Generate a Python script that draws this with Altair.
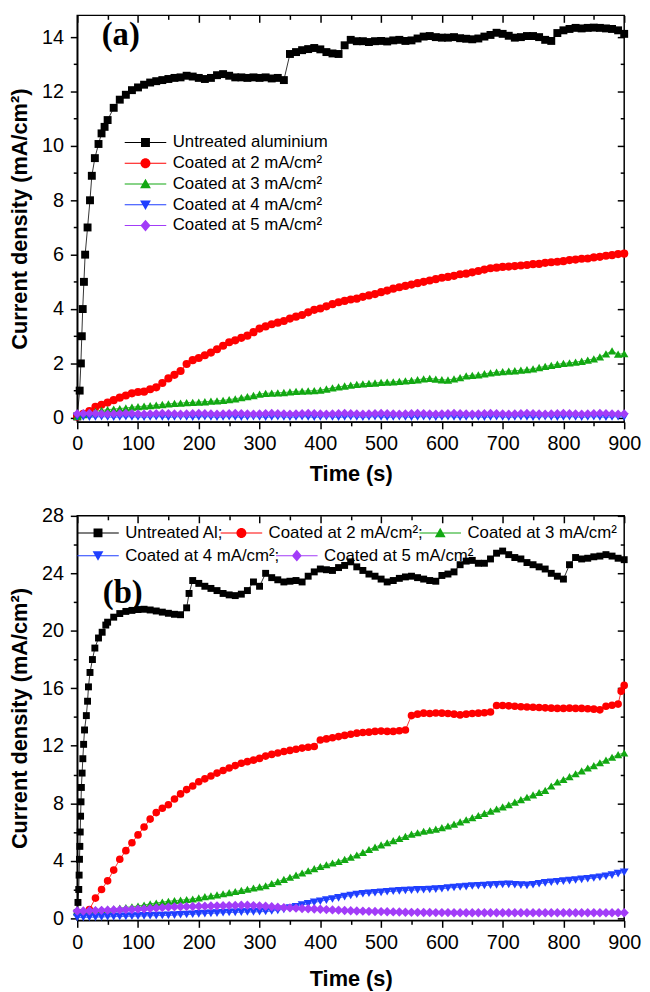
import altair as alt
import pandas as pd

FONT = "Liberation Sans"

# ---------------- categories / styles ----------------
NAMES_A = ["Untreated aluminium", "Coated at 2 mA/cm²", "Coated at 3 mA/cm²",
           "Coated at 4 mA/cm²", "Coated at 5 mA/cm²"]
NAMES_B = ["Untreated Al;", "Coated at 2 mA/cm²;", "Coated at 3 mA/cm²",
           "Coated at 4 mA/cm²;", "Coated at 5 mA/cm²"]
COLORS = ["#000000", "#FF0000", "#12A812", "#1F3FFF", "#A23CF8"]
SHAPES = ["square", "circle", "triangle-up", "triangle-down", "diamond"]
SIZES_A = [64, 81, 100, 100, 121]
SIZES_B = [49, 90, 100, 100, 130]

# legend glyphs: a thin horizontal line plus the marker (filled areas only)
LEG_PATHS = [
    "M-2,-0.05H2V0.05H-2ZM-0.43,-0.43H0.43V0.43H-0.43Z",
    "M-2,-0.05H2V0.05H-2ZM0.48,0A0.48,0.48,0,1,1,-0.48,0A0.48,0.48,0,1,1,0.48,0Z",
    "M-2,-0.05H2V0.05H-2ZM0,-0.5L0.52,0.42H-0.52Z",
    "M-2,-0.05H2V0.05H-2ZM0,0.5L-0.52,-0.42H0.52Z",
    "M-2,-0.05H2V0.05H-2ZM0,-0.57L0.48,0L0,0.57L-0.48,0Z",
]

# ---------------- tick values ----------------
X_MAJOR = [0, 100, 200, 300, 400, 500, 600, 700, 800, 900]
X_MINOR = [50, 150, 250, 350, 450, 550, 650, 750, 850]
Y_MAJOR_A = [0, 2, 4, 6, 8, 10, 12, 14]
Y_MINOR_A = [1, 3, 5, 7, 9, 11, 13]
Y_MAJOR_B = [0, 4, 8, 12, 16, 20, 24, 28]
Y_MINOR_B = [2, 6, 10, 14, 18, 22, 26]

# ---------------- data: panel (a) ----------------
T10 = list(range(0, 901, 10))

BLACK_A_T = [0, 4, 6, 7.5, 9, 11, 13, 17, 21, 24, 29, 35, 40, 45] + list(range(50, 901, 10))
BLACK_A_V = [0.05, 1.0, 2.0, 3.0, 4.0, 5.0, 6.0, 7.0, 8.0, 8.9, 9.55, 10.07, 10.46, 10.7,
             10.95, 11.4, 11.7, 11.88, 12.05, 12.15, 12.25, 12.33, 12.38, 12.42,
             12.46, 12.5, 12.52, 12.58, 12.55, 12.5, 12.46, 12.5, 12.6, 12.64,
             12.58, 12.52, 12.52, 12.5, 12.52, 12.5, 12.52, 12.48, 12.5, 12.42,
             13.38, 13.45, 13.52, 13.56, 13.6, 13.55, 13.45, 13.4, 13.38, 13.7,
             13.9, 13.85, 13.85, 13.82, 13.85, 13.86, 13.84, 13.88, 13.9, 13.86,
             13.88, 13.95, 14.02, 14.04, 14.0, 13.98, 13.98, 14.0, 13.96, 13.94,
             13.92, 13.95, 14.02, 14.08, 14.16, 14.12, 14.05, 13.98, 14.0, 14.04,
             14.04, 14.0, 13.9, 13.86, 14.15, 14.25, 14.3, 14.34, 14.32, 14.34,
             14.35, 14.34, 14.32, 14.3, 14.25, 14.12]

RED_A_V = [0.05, 0.15, 0.25, 0.4, 0.48, 0.56, 0.65, 0.74, 0.82, 0.9,
           0.95, 0.96, 1.05, 1.12, 1.28, 1.45, 1.58, 1.72, 1.98, 2.12,
           2.2, 2.3, 2.4, 2.52, 2.65, 2.78, 2.85, 2.94, 3.02, 3.15,
           3.28, 3.36, 3.44, 3.5, 3.56, 3.65, 3.72, 3.78, 3.88, 3.97,
           4.02, 4.1, 4.18, 4.25, 4.3, 4.35, 4.38, 4.45, 4.5, 4.55,
           4.62, 4.68, 4.75, 4.8, 4.85, 4.9, 4.95, 5.0, 5.05, 5.1,
           5.15, 5.18, 5.22, 5.28, 5.3, 5.35, 5.4, 5.45, 5.5, 5.52,
           5.55, 5.56, 5.58, 5.6, 5.62, 5.65, 5.66, 5.7, 5.72, 5.74,
           5.76, 5.8, 5.82, 5.85, 5.86, 5.9, 5.92, 5.96, 5.98, 6.02,
           6.04]

GREEN_A_V = [0.05, 0.12, 0.18, 0.24, 0.27, 0.3, 0.32, 0.34, 0.36, 0.39,
             0.41, 0.43, 0.45, 0.47, 0.49, 0.51, 0.53, 0.54, 0.56, 0.57,
             0.58, 0.59, 0.61, 0.62, 0.64, 0.67, 0.7, 0.74, 0.78, 0.82,
             0.87, 0.9, 0.91, 0.92, 0.93, 0.95, 0.97, 0.98, 0.99, 1.0,
             1.02, 1.06, 1.1, 1.14, 1.17, 1.2, 1.23, 1.25, 1.27, 1.28,
             1.3, 1.31, 1.32, 1.34, 1.36, 1.38, 1.4, 1.43, 1.45, 1.42,
             1.4, 1.39, 1.43, 1.48, 1.54, 1.56, 1.58, 1.62, 1.65, 1.68,
             1.7, 1.72, 1.73, 1.75, 1.77, 1.8, 1.85, 1.89, 1.93, 1.97,
             2.0, 2.02, 2.05, 2.08, 2.12, 2.17, 2.24, 2.35, 2.46, 2.34,
             2.36]

BLUE_A_V = [0.04, 0.03, 0.02, 0.03, 0.04, 0.03, 0.02, 0.03, 0.04, 0.03,
            0.03, 0.02, 0.03, 0.04, 0.03, 0.02, 0.03, 0.04, 0.03, 0.02,
            0.03, 0.04, 0.03, 0.02, 0.03, 0.04, 0.03, 0.02, 0.03, 0.04,
            0.03, 0.02, 0.03, 0.04, 0.03, 0.02, 0.03, 0.04, 0.03, 0.02,
            0.03, 0.04, 0.03, 0.02, 0.03, 0.04, 0.03, 0.02, 0.03, 0.04,
            0.03, 0.02, 0.03, 0.04, 0.03, 0.02, 0.03, 0.04, 0.03, 0.02,
            0.03, 0.04, 0.03, 0.02, 0.03, 0.04, 0.03, 0.02, 0.03, 0.04,
            0.03, 0.02, 0.03, 0.04, 0.03, 0.02, 0.03, 0.04, 0.03, 0.02,
            0.03, 0.04, 0.03, 0.02, 0.03, 0.04, 0.03, 0.02, 0.03, 0.04,
            0.03]

PURPLE_A_V = [0.15, 0.16, 0.17, 0.16, 0.15, 0.14, 0.15, 0.16, 0.17, 0.16,
              0.15, 0.14, 0.15, 0.16, 0.17, 0.16, 0.15, 0.14, 0.15, 0.16,
              0.17, 0.16, 0.15, 0.14, 0.15, 0.16, 0.17, 0.16, 0.15, 0.14,
              0.15, 0.16, 0.17, 0.16, 0.15, 0.14, 0.15, 0.16, 0.17, 0.16,
              0.15, 0.14, 0.15, 0.16, 0.17, 0.16, 0.15, 0.14, 0.15, 0.16,
              0.17, 0.16, 0.15, 0.14, 0.15, 0.16, 0.17, 0.16, 0.15, 0.14,
              0.15, 0.16, 0.17, 0.16, 0.15, 0.14, 0.15, 0.16, 0.17, 0.16,
              0.15, 0.14, 0.15, 0.16, 0.17, 0.16, 0.15, 0.14, 0.15, 0.16,
              0.17, 0.16, 0.15, 0.14, 0.15, 0.16, 0.17, 0.16, 0.15, 0.14,
              0.15]

# ---------------- data: panel (b) ----------------
BLACK_B_T = ([0, 1.2, 2.5, 3.1, 3.7, 4.3, 4.9, 5.5, 6.2, 6.8, 8, 9.2, 10.5, 12, 15, 17, 18.5,
              21, 25, 29, 35, 41, 47] + list(range(50, 181, 10)) + [184] + list(range(190, 901, 10)))
BLACK_B_V = [0.4, 1.1, 2.0, 3.0, 4.1, 5.0, 6.0, 7.1, 8.1, 9.1, 10.1, 11.1, 12.1, 13.1, 14.1, 15.1,
             16.1, 17.1, 18.0, 18.8, 19.5, 19.9, 20.4,
             20.6, 20.95, 21.2, 21.35, 21.42, 21.48, 21.5, 21.45, 21.38, 21.3, 21.22, 21.15, 21.12, 21.6,
             22.6,
             23.5, 23.3, 23.1, 22.95, 22.8, 22.6, 22.5, 22.45, 22.55, 22.8,
             23.4, 23.1, 24.0, 23.7, 23.55, 23.4, 23.45, 23.5, 23.4, 23.8,
             24.1, 24.3, 24.25, 24.2, 24.4, 24.55, 24.8, 24.45, 24.2, 23.95,
             23.8, 23.6, 23.4, 23.5, 23.65, 23.75, 23.8, 23.7, 23.6, 23.5,
             23.45, 23.85, 23.95, 24.1, 24.6, 24.85, 24.9, 24.7, 24.7, 25.0,
             25.4, 25.55, 25.3, 25.1, 25.0, 24.75, 24.6, 24.45, 24.3, 24.0,
             23.8, 23.6, 24.6, 25.1, 25.0, 25.05, 25.15, 25.2, 25.3, 25.2,
             25.05, 24.95]

RED_B_T = list(range(20, 891, 10)) + [895, 900]
RED_B_V = [0.6, 1.4, 2.0, 2.6, 3.35, 4.1, 4.7, 5.25, 5.8, 6.35,
           6.9, 7.35, 7.65, 7.9, 8.3, 8.65, 8.95, 9.2, 9.5, 9.7,
           9.9, 10.1, 10.28, 10.45, 10.62, 10.78, 10.9, 11.0, 11.12, 11.28,
           11.4, 11.5, 11.6, 11.68, 11.76, 11.84, 11.9, 11.95, 12.4, 12.48,
           12.56, 12.64, 12.72, 12.8, 12.88, 12.92, 12.95, 13.0, 13.02, 13.0,
           13.0, 13.05, 13.1, 14.1, 14.2, 14.27, 14.25, 14.28, 14.27, 14.25,
           14.2, 14.15, 14.2, 14.25, 14.27, 14.3, 14.35, 14.8, 14.8, 14.78,
           14.75, 14.72, 14.7, 14.68, 14.66, 14.64, 14.62, 14.6, 14.6, 14.62,
           14.6, 14.6, 14.58, 14.55, 14.5, 14.75, 14.82, 14.9,
           15.8, 16.2]

GREEN_B_V = [0.45, 0.5, 0.55, 0.58, 0.6, 0.63, 0.66, 0.7, 0.75, 0.8,
             0.85, 0.92, 1.0, 1.06, 1.12, 1.18, 1.22, 1.26, 1.3, 1.34,
             1.42, 1.5, 1.56, 1.62, 1.7, 1.78, 1.86, 1.94, 2.02, 2.1,
             2.18, 2.26, 2.42, 2.55, 2.7, 2.85, 3.0, 3.15, 3.3, 3.45,
             3.6, 3.72, 3.84, 3.95, 4.1, 4.25, 4.4, 4.58, 4.78, 4.95,
             5.1, 5.25, 5.4, 5.55, 5.7, 5.85, 5.95, 6.05, 6.12, 6.2,
             6.3, 6.42, 6.55, 6.7, 6.85, 7.0, 7.15, 7.3, 7.45, 7.6,
             7.75, 7.9, 8.08, 8.25, 8.42, 8.58, 8.75, 8.9, 9.2, 9.48,
             9.65, 9.85, 10.05, 10.25, 10.45, 10.62, 10.82, 11.0, 11.2, 11.38,
             11.5]

BLUE_B_V = [0.05, 0.06, 0.07, 0.08, 0.09, 0.1, 0.11, 0.12, 0.13, 0.14,
            0.15, 0.16, 0.17, 0.18, 0.19, 0.2, 0.22, 0.24, 0.26, 0.28,
            0.3, 0.32, 0.34, 0.36, 0.38, 0.4, 0.41, 0.42, 0.43, 0.44,
            0.45, 0.47, 0.5, 0.55, 0.62, 0.7, 0.8, 0.92, 1.0, 1.1,
            1.18, 1.26, 1.34, 1.42, 1.5, 1.58, 1.65, 1.7, 1.74, 1.77,
            1.8, 1.84, 1.88, 1.9, 1.93, 1.95, 1.97, 1.98, 2.0, 2.02,
            2.05, 2.1, 2.14, 2.17, 2.2, 2.24, 2.26, 2.28, 2.3, 2.32,
            2.35, 2.36, 2.33, 2.3, 2.29, 2.33, 2.4, 2.46, 2.5, 2.54,
            2.58, 2.62, 2.66, 2.7, 2.75, 2.8, 2.85, 2.92, 3.0, 3.1,
            3.2]

PURPLE_B_V = [0.5, 0.5, 0.52, 0.53, 0.55, 0.56, 0.57, 0.58, 0.6, 0.61,
              0.63, 0.65, 0.68, 0.71, 0.74, 0.77, 0.79, 0.8, 0.81, 0.82,
              0.83, 0.84, 0.85, 0.86, 0.87, 0.88, 0.89, 0.9, 0.9, 0.88,
              0.86, 0.83, 0.8, 0.77, 0.74, 0.72, 0.7, 0.68, 0.66, 0.64,
              0.62, 0.6, 0.58, 0.56, 0.54, 0.52, 0.5, 0.49, 0.48, 0.47,
              0.46, 0.45, 0.44, 0.43, 0.42, 0.41, 0.41, 0.4, 0.4, 0.39,
              0.39, 0.39, 0.38, 0.38, 0.38, 0.38, 0.38, 0.38, 0.38, 0.38,
              0.38, 0.38, 0.38, 0.38, 0.38, 0.38, 0.38, 0.38, 0.38, 0.38,
              0.38, 0.38, 0.38, 0.38, 0.38, 0.38, 0.38, 0.38, 0.38, 0.38,
              0.38]


def frame(names, ts_list, vs_list):
    rows = []
    for k, (name, ts, vs) in enumerate(zip(names, ts_list, vs_list)):
        for t, v in zip(ts, vs):
            rows.append({"t": t, "v": v, "series": name, "k": k})
    return pd.DataFrame(rows)


DF_A = frame(NAMES_A, [BLACK_A_T, T10, T10, T10, T10],
             [BLACK_A_V, RED_A_V, GREEN_A_V, BLUE_A_V, PURPLE_A_V])
DF_B = frame(NAMES_B, [BLACK_B_T, RED_B_T, T10, T10, T10],
             [BLACK_B_V, RED_B_V, GREEN_B_V, BLUE_B_V, PURPLE_B_V])
ONE = pd.DataFrame({"t": [0.0], "v": [0.0]})

AX = dict(labelFont=FONT, labelFontSize=20, labelColor="black", tickColor="black",
          tickWidth=1.5, domainColor="black", domainWidth=1.5, grid=False,
          titleFont=FONT, titleFontSize=22, titleFontWeight="bold", titleColor="black")
MINOR = dict(labels=False, domain=False, title=None, tickColor="black", tickWidth=1.5, grid=False)


def legend_layer(names, idx, direction, lx, ly, colpad):
    sub = [names[i] for i in idx]
    leg = alt.Legend(orient="none", legendX=lx, legendY=ly, direction=direction, title=None,
                     symbolSize=441, symbolStrokeWidth=0, symbolOpacity=1,
                     labelFont=FONT, labelFontSize=17, labelColor="black", labelOffset=17,
                     rowPadding=2, columnPadding=colpad, padding=0, labelLimit=400)
    ldf = pd.DataFrame({"series": sub})
    return alt.Chart(ldf).mark_point(filled=True, opacity=0).encode(
        color=alt.Color("series:N", scale=alt.Scale(domain=sub, range=[COLORS[i] for i in idx]), legend=leg),
        shape=alt.Shape("series:N", scale=alt.Scale(domain=sub, range=[LEG_PATHS[i] for i in idx]), legend=leg),
    )


def panel(df, names, sizes, y_dom, y_major, y_minor, height, tag, tag_xy, legends, x_title_pad):
    xs = alt.Scale(domain=[0, 900], nice=False, zero=False)
    ys = alt.Scale(domain=y_dom, nice=False, zero=False)
    col = alt.Color("series:N", scale=alt.Scale(domain=names, range=COLORS), legend=None)
    lines = alt.Chart(df).mark_line(strokeWidth=0.8).encode(
        x=alt.X("t:Q", scale=xs, axis=alt.Axis(orient="bottom", values=X_MAJOR, title="Time (s)",
                                               tickSize=7, labelPadding=5, titlePadding=x_title_pad,
                                               labelFlush=False, **AX)),
        y=alt.Y("v:Q", scale=ys, axis=alt.Axis(orient="left", values=y_major,
                                               title="Current density (mA/cm²)",
                                               tickSize=7, labelPadding=7, titlePadding=10, **AX)),
        color=col, detail="series:N")
    pts = alt.Chart(df).mark_point(filled=True, opacity=1, strokeWidth=0).encode(
        x=alt.X("t:Q", scale=xs, axis=None),
        y=alt.Y("v:Q", scale=ys, axis=None),
        color=col,
        shape=alt.Shape("series:N", scale=alt.Scale(domain=names, range=SHAPES), legend=None),
        size=alt.Size("series:N", scale=alt.Scale(domain=names, range=sizes), legend=None))

    def ticks(xa, ya):
        return alt.Chart(ONE).mark_point(opacity=0).encode(
            x=alt.X("t:Q", scale=xs, axis=xa), y=alt.Y("v:Q", scale=ys, axis=ya))

    t1 = ticks(alt.Axis(orient="bottom", values=X_MINOR, tickSize=4, **MINOR),
               alt.Axis(orient="left", values=y_minor, tickSize=4, **MINOR))
    t2 = ticks(alt.Axis(orient="top", values=X_MAJOR, tickSize=7, offset=-7, **MINOR),
               alt.Axis(orient="right", values=y_major, tickSize=7, offset=-7, **MINOR))
    t3 = ticks(alt.Axis(orient="top", values=X_MINOR, tickSize=4, offset=-4, **MINOR),
               alt.Axis(orient="right", values=y_minor, tickSize=4, offset=-4, **MINOR))
    tag_layer = alt.Chart(ONE).mark_text(text=tag, font="Liberation Serif", fontWeight="bold",
                                         fontSize=33, color="black").encode(
        x=alt.value(tag_xy[0]), y=alt.value(tag_xy[1]))
    return alt.layer(lines, pts, t1, t2, t3, tag_layer, *legends).resolve_scale(
        color="independent", shape="independent", size="independent").resolve_axis(
        x="independent", y="independent").properties(width=553, height=height)


pa = panel(DF_A, NAMES_A, SIZES_A, [-0.15, 14.8], Y_MAJOR_A, Y_MINOR_A, 411, "(a)", (44, 19.5),
           [legend_layer(NAMES_A, [0, 1, 2, 3, 4], "vertical", 58.5, 118, 3)], 10)
pb = panel(DF_B, NAMES_B, SIZES_B, [-0.15, 28], Y_MAJOR_B, Y_MINOR_B, 409, "(b)", (46, 78),
           [legend_layer(NAMES_B, [0, 1, 2], "horizontal", 10.5, 6.5, -4),
            legend_layer(NAMES_B, [3, 4], "horizontal", 10.5, 29.5, -4)], 17)

chart = alt.vconcat(pa, pb, spacing=20).properties(
    padding={"left": 0, "top": 0, "right": 0, "bottom": 0}
).configure_view(stroke="black", strokeWidth=1.5)

chart.save("out.html", embed_options={"renderer": "svg", "actions": False})
